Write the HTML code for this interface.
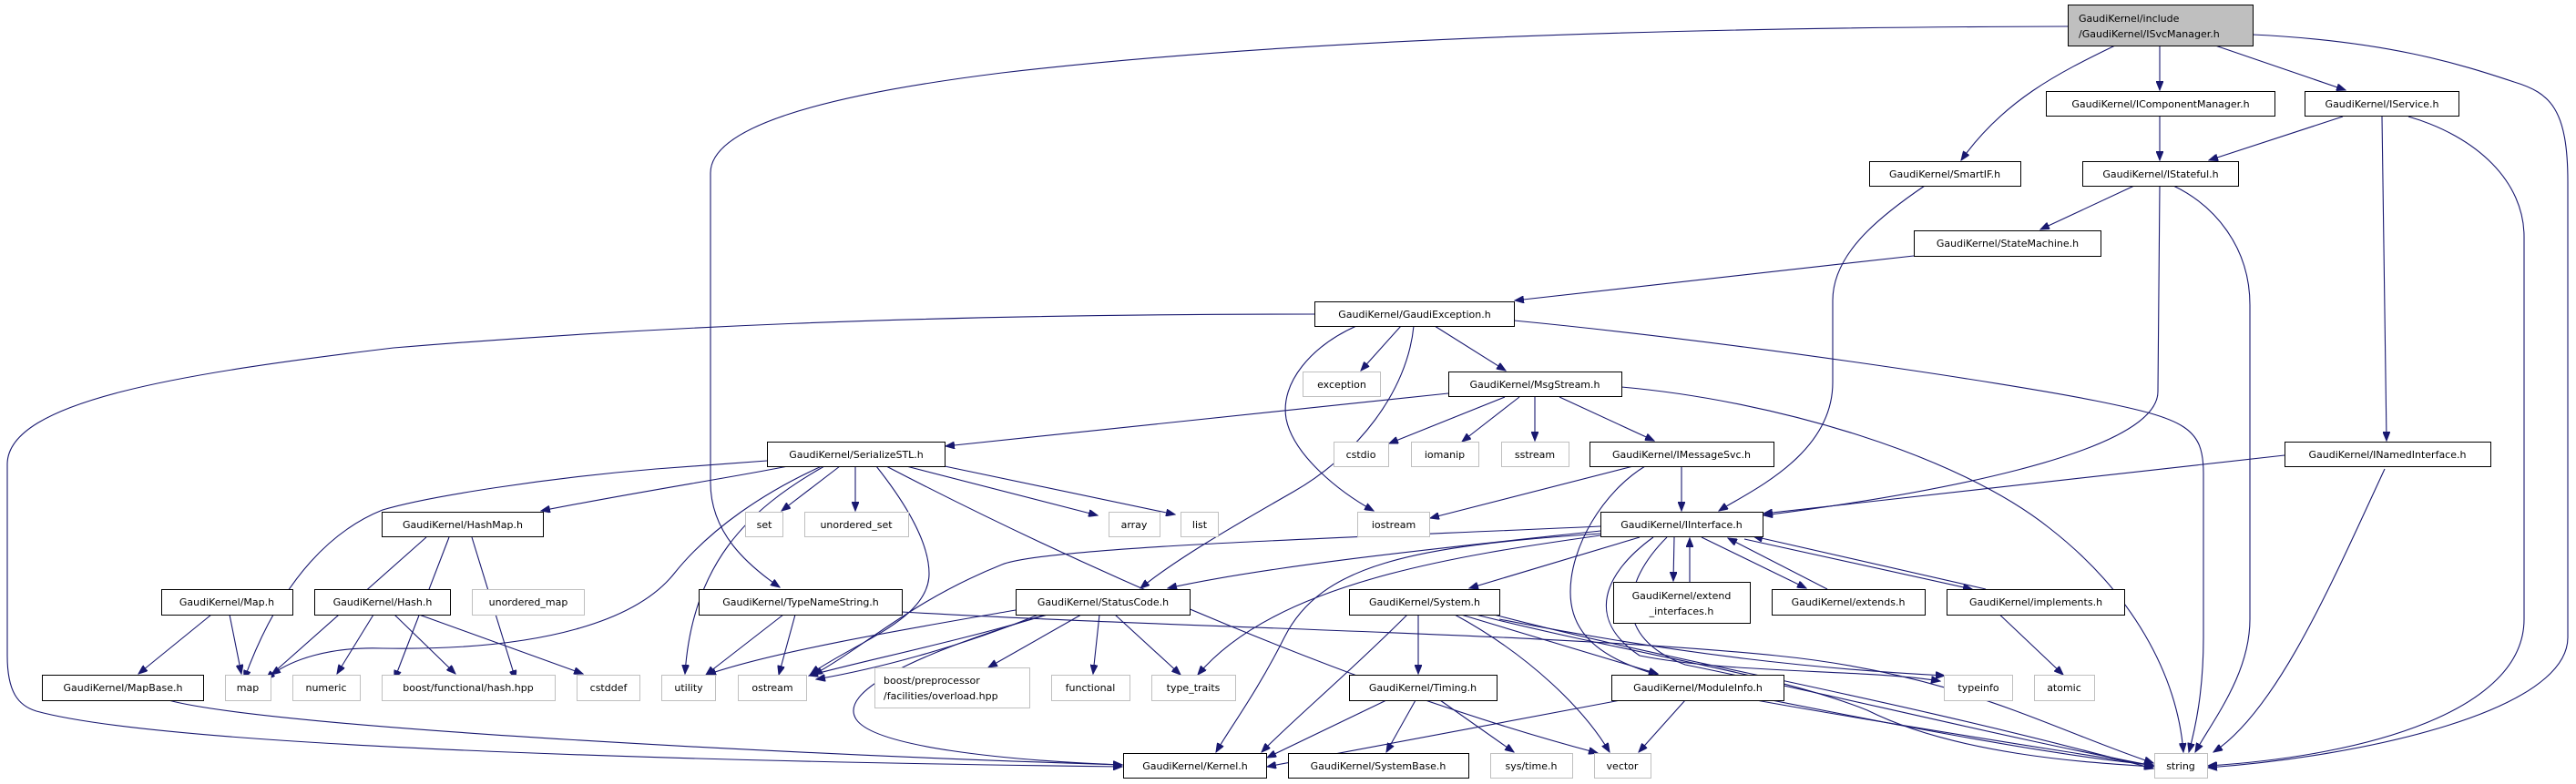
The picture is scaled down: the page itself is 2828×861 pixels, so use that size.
<!DOCTYPE html>
<html><head><meta charset="utf-8"><style>
html,body{margin:0;padding:0;background:#fff;}
svg{display:block;}
text{font-family:"DejaVu Sans","Liberation Sans",sans-serif;font-size:11px;fill:#000;}
.e{fill:none;stroke:#191970;stroke-width:1.1;}
.n{fill:#fff;stroke:#000;stroke-width:1;}
.x{fill:#fff;stroke:#bfbfbf;stroke-width:1;}
</style></head><body>
<svg width="2828" height="861" viewBox="0 0 2828 861" xmlns="http://www.w3.org/2000/svg">
<defs><marker id="a" markerUnits="userSpaceOnUse" markerWidth="11" markerHeight="8" refX="10" refY="4" orient="auto"><path d="M0,0 L10,4 L0,8 z" fill="#191970" stroke="#191970"/></marker></defs>
<g class="e" marker-end="url(#a)">
<path d="M2270,29 C1800,30 1400,45 1100,80 C900,105 780,140 780,190 L780,530 C780,585 820,620 856,645"/>
<path d="M2322,50 C2260,80 2200,110 2153,176"/>
<path d="M2371,50 L2371,99"/>
<path d="M2432,50 L2575,99"/>
<path d="M2473,38 C2620,45 2700,70 2760,90 C2800,102 2819,120 2819,200 L2819,700 C2819,780 2600,830 2424,843"/>
<path d="M2371,128 L2371,176"/>
<path d="M2572,128 L2425,176"/>
<path d="M2615,128 L2620,484"/>
<path d="M2644,128 C2720,150 2771,200 2771,260 L2771,680 C2771,780 2600,830 2424,841"/>
<path d="M2343,204 L2240,252"/>
<path d="M2371,204 L2369,430 C2369,500 2100,545 1936,566"/>
<path d="M2386,204 C2430,225 2470,270 2470,335 L2470,680 C2470,740 2430,790 2410,826"/>
<path d="M2101,281 L1663,330"/>
<path d="M2113,204 C2060,240 2012,280 2012,330 L2012,420 C2012,500 1920,540 1887,561"/>
<path d="M1662,352 C1900,375 2200,420 2300,440 C2400,460 2419,470 2419,520 L2419,700 C2419,760 2410,800 2403,826"/>
<path d="M1443,345 C1000,345 700,360 432,382 C200,410 8,440 8,510 L8,720 C8,760 20,775 40,781 C200,825 900,838 1232,842"/>
<path d="M1538,358 L1494,407"/>
<path d="M1575,358 L1653,407"/>
<path d="M1489,358 C1440,380 1405,420 1412,460 C1420,500 1470,540 1508,561"/>
<path d="M1552,358 C1545,430 1490,500 1420,540 C1350,580 1290,615 1252,646"/>
<path d="M1590,432 L1038,490"/>
<path d="M1652,436 L1525,487"/>
<path d="M1668,436 L1605,485"/>
<path d="M1685,436 L1685,484"/>
<path d="M1712,436 L1816,484"/>
<path d="M1780,425 C1950,440 2150,500 2250,580 C2340,650 2390,740 2397,826"/>
<path d="M1793,512 L1570,569"/>
<path d="M1846,512 L1846,561"/>
<path d="M1806,512 C1760,540 1724,600 1724,650 C1724,720 1800,740 1900,760 C2050,790 2250,830 2364,840"/>
<path d="M2508,500 L1936,564"/>
<path d="M2618,515 C2560,640 2500,780 2430,826"/>
<path d="M842,506 L720,515 C600,525 470,545 420,560 C370,580 310,630 268,746"/>
<path d="M865,512 C800,525 700,540 594,561"/>
<path d="M468,590 L290,746" transform="translate(0,0)" style="display:none"/>
<path d="M468,590 L292,746"/>
<path d="M493,590 L433,746"/>
<path d="M518,590 L566,746"/>
<path d="M232,675 L152,740"/>
<path d="M252,675 L265,740"/>
<path d="M410,675 L370,740"/>
<path d="M433,675 L500,740"/>
<path d="M460,675 L640,740"/>
<path d="M902,512 C840,540 780,580 740,630 C700,680 600,715 420,712 C360,710 320,725 298,741"/>
<path d="M905,512 C820,560 760,620 752,740"/>
<path d="M922,512 L858,561"/>
<path d="M939,512 L939,561"/>
<path d="M995,512 L1205,566"/>
<path d="M1037,512 L1290,565"/>
<path d="M962,512 C1000,560 1020,600 1020,630 C1020,680 940,705 890,740"/>
<path d="M973,512 C1200,630 1500,760 1754,827"/>
<path d="M860,675 L775,741"/>
<path d="M873,675 L855,741"/>
<path d="M990,672 C1300,690 1700,695 1950,720 C2150,740 2250,800 2364,838"/>
<path d="M1115,670 C1000,690 850,715 776,741"/>
<path d="M1150,675 C1050,705 950,725 888,742"/>
<path d="M1140,675 C1050,712 960,735 896,746"/>
<path d="M1187,675 L1085,733"/>
<path d="M1207,675 L1200,740"/>
<path d="M1224,675 L1296,741"/>
<path d="M1148,675 C1000,720 920,760 940,790 C960,820 1100,835 1232,840"/>
<path d="M1757,583 C1600,600 1400,620 1282,646"/>
<path d="M1757,578 C1500,590 1150,600 1100,620 C1000,660 950,710 893,741"/>
<path d="M1757,586 C1550,600 1450,620 1410,700 C1380,760 1350,800 1335,826"/>
<path d="M1757,588 C1600,610 1400,640 1315,741"/>
<path d="M1815,590 C1760,630 1740,680 1800,720 C1900,740 2050,735 2130,748"/>
<path d="M1830,590 C1780,640 1770,700 1850,730 C2000,760 2200,810 2364,841"/>
<path d="M1800,590 L1613,646"/>
<path d="M1838,590 L1837,638"/>
<path d="M1855,639 L1855,591"/>
<path d="M1868,590 L1983,646"/>
<path d="M2006,647 L1897,591"/>
<path d="M1915,592 L2165,647"/>
<path d="M2180,647 L1925,589"/>
<path d="M1557,675 L1557,740"/>
<path d="M1545,675 C1480,740 1420,790 1385,826"/>
<path d="M1597,675 C1680,720 1740,780 1767,826"/>
<path d="M1604,675 L1820,740"/>
<path d="M1646,680 C1850,720 2000,735 2135,742"/>
<path d="M1620,675 C1800,720 1950,740 2050,780 C2150,830 2300,838 2364,842"/>
<path d="M1640,675 C1850,730 2050,760 2364,844"/>
<path d="M1554,769 L1522,826"/>
<path d="M1581,769 L1662,826"/>
<path d="M1522,769 L1391,832"/>
<path d="M1779,769 L1391,842"/>
<path d="M1850,769 L1799,826"/>
<path d="M1928,769 C2100,800 2300,830 2364,841"/>
<path d="M185,769 C300,800 900,830 1232,840"/>
<path d="M2189,669 L2265,741"/>
</g>
<!-- nodes -->
<rect x="2270.5" y="5.5" width="203" height="45" fill="#bfbfbf" stroke="#000"/>
<text x="2282" y="24">GaudiKernel/include</text><text x="2282" y="41">/GaudiKernel/ISvcManager.h</text>
<g text-anchor="middle">
<rect class="n" x="2246.5" y="100.5" width="251" height="27"/><text x="2372" y="118">GaudiKernel/IComponentManager.h</text>
<rect class="n" x="2530.5" y="100.5" width="169" height="27"/><text x="2615" y="118">GaudiKernel/IService.h</text>
<rect class="n" x="2052.5" y="177.5" width="166" height="27"/><text x="2135" y="195">GaudiKernel/SmartIF.h</text>
<rect class="n" x="2286.5" y="177.5" width="171" height="27"/><text x="2372" y="195">GaudiKernel/IStateful.h</text>
<rect class="n" x="2101.5" y="253.5" width="205" height="28"/><text x="2204" y="271">GaudiKernel/StateMachine.h</text>
<rect class="n" x="1443.5" y="331.5" width="219" height="27"/><text x="1553" y="349">GaudiKernel/GaudiException.h</text>
<rect class="x" x="1430.5" y="408.5" width="85" height="27"/><text x="1473" y="426">exception</text>
<rect class="n" x="1590.5" y="408.5" width="190" height="27"/><text x="1685" y="426">GaudiKernel/MsgStream.h</text>
<rect class="n" x="842.5" y="485.5" width="195" height="27"/><text x="940" y="503">GaudiKernel/SerializeSTL.h</text>
<rect class="x" x="1464.5" y="485.5" width="60" height="27"/><text x="1494" y="503">cstdio</text>
<rect class="x" x="1549.5" y="485.5" width="74" height="27"/><text x="1586" y="503">iomanip</text>
<rect class="x" x="1648.5" y="485.5" width="74" height="27"/><text x="1685" y="503">sstream</text>
<rect class="n" x="1745.5" y="485.5" width="202" height="27"/><text x="1846" y="503">GaudiKernel/IMessageSvc.h</text>
<rect class="n" x="2508.5" y="485.5" width="226" height="27"/><text x="2621" y="503">GaudiKernel/INamedInterface.h</text>
<rect class="n" x="419.5" y="562.5" width="177" height="27"/><text x="508" y="580">GaudiKernel/HashMap.h</text>
<rect class="x" x="818.5" y="562.5" width="41" height="27"/><text x="839" y="580">set</text>
<rect class="x" x="883.5" y="562.5" width="114" height="27"/><text x="940" y="580">unordered_set</text>
<rect class="x" x="1217.5" y="562.5" width="56" height="27"/><text x="1245" y="580">array</text>
<rect class="x" x="1296.5" y="562.5" width="41" height="27"/><text x="1317" y="580">list</text>
<rect class="x" x="1490.5" y="562.5" width="79" height="27"/><text x="1530" y="580">iostream</text>
<rect class="n" x="1757.5" y="562.5" width="178" height="27"/><text x="1846" y="580">GaudiKernel/IInterface.h</text>
<rect class="n" x="177.5" y="647.5" width="144" height="28"/><text x="249" y="665">GaudiKernel/Map.h</text>
<rect class="n" x="345.5" y="647.5" width="149" height="28"/><text x="420" y="665">GaudiKernel/Hash.h</text>
<rect class="x" x="518.5" y="647.5" width="123" height="28"/><text x="580" y="665">unordered_map</text>
<rect class="n" x="767.5" y="647.5" width="223" height="28"/><text x="879" y="665">GaudiKernel/TypeNameString.h</text>
<rect class="n" x="1115.5" y="647.5" width="191" height="28"/><text x="1211" y="665">GaudiKernel/StatusCode.h</text>
<rect class="n" x="1481.5" y="647.5" width="165" height="28"/><text x="1564" y="665">GaudiKernel/System.h</text>
<rect class="n" x="1771.5" y="639.5" width="150" height="45"/><text x="1846" y="658">GaudiKernel/extend</text><text x="1846" y="675">_interfaces.h</text>
<rect class="n" x="1945.5" y="647.5" width="168" height="28"/><text x="2029" y="665">GaudiKernel/extends.h</text>
<rect class="n" x="2137.5" y="647.5" width="195" height="28"/><text x="2235" y="665">GaudiKernel/implements.h</text>
<rect class="n" x="46.5" y="741.5" width="177" height="28"/><text x="135" y="759">GaudiKernel/MapBase.h</text>
<rect class="x" x="247.5" y="741.5" width="50" height="28"/><text x="272" y="759">map</text>
<rect class="x" x="321.5" y="741.5" width="74" height="28"/><text x="358" y="759">numeric</text>
<rect class="x" x="419.5" y="741.5" width="190" height="28"/><text x="514" y="759">boost/functional/hash.hpp</text>
<rect class="x" x="633.5" y="741.5" width="69" height="28"/><text x="668" y="759">cstddef</text>
<rect class="x" x="726.5" y="741.5" width="59" height="28"/><text x="756" y="759">utility</text>
<rect class="x" x="810.5" y="741.5" width="75" height="28"/><text x="848" y="759">ostream</text>
<rect class="x" x="960.5" y="733.5" width="170" height="44"/><text x="970" y="751" text-anchor="start">boost/preprocessor</text><text x="970" y="768" text-anchor="start">/facilities/overload.hpp</text>
<rect class="x" x="1154.5" y="741.5" width="86" height="28"/><text x="1197" y="759">functional</text>
<rect class="x" x="1264.5" y="741.5" width="92" height="28"/><text x="1310" y="759">type_traits</text>
<rect class="n" x="1481.5" y="741.5" width="162" height="28"/><text x="1562" y="759">GaudiKernel/Timing.h</text>
<rect class="n" x="1769.5" y="741.5" width="189" height="28"/><text x="1864" y="759">GaudiKernel/ModuleInfo.h</text>
<rect class="x" x="2134.5" y="741.5" width="75" height="28"/><text x="2172" y="759">typeinfo</text>
<rect class="x" x="2233.5" y="741.5" width="66" height="28"/><text x="2266" y="759">atomic</text>
<rect class="n" x="1233.5" y="827.5" width="157" height="27"/><text x="1312" y="845">GaudiKernel/Kernel.h</text>
<rect class="n" x="1414.5" y="827.5" width="198" height="27"/><text x="1513" y="845">GaudiKernel/SystemBase.h</text>
<rect class="x" x="1636.5" y="827.5" width="90" height="27"/><text x="1681" y="845">sys/time.h</text>
<rect class="x" x="1750.5" y="827.5" width="62" height="27"/><text x="1781" y="845">vector</text>
<rect class="x" x="2365.5" y="827.5" width="58" height="27"/><text x="2394" y="845">string</text>
</g>
</svg>
</body></html>
